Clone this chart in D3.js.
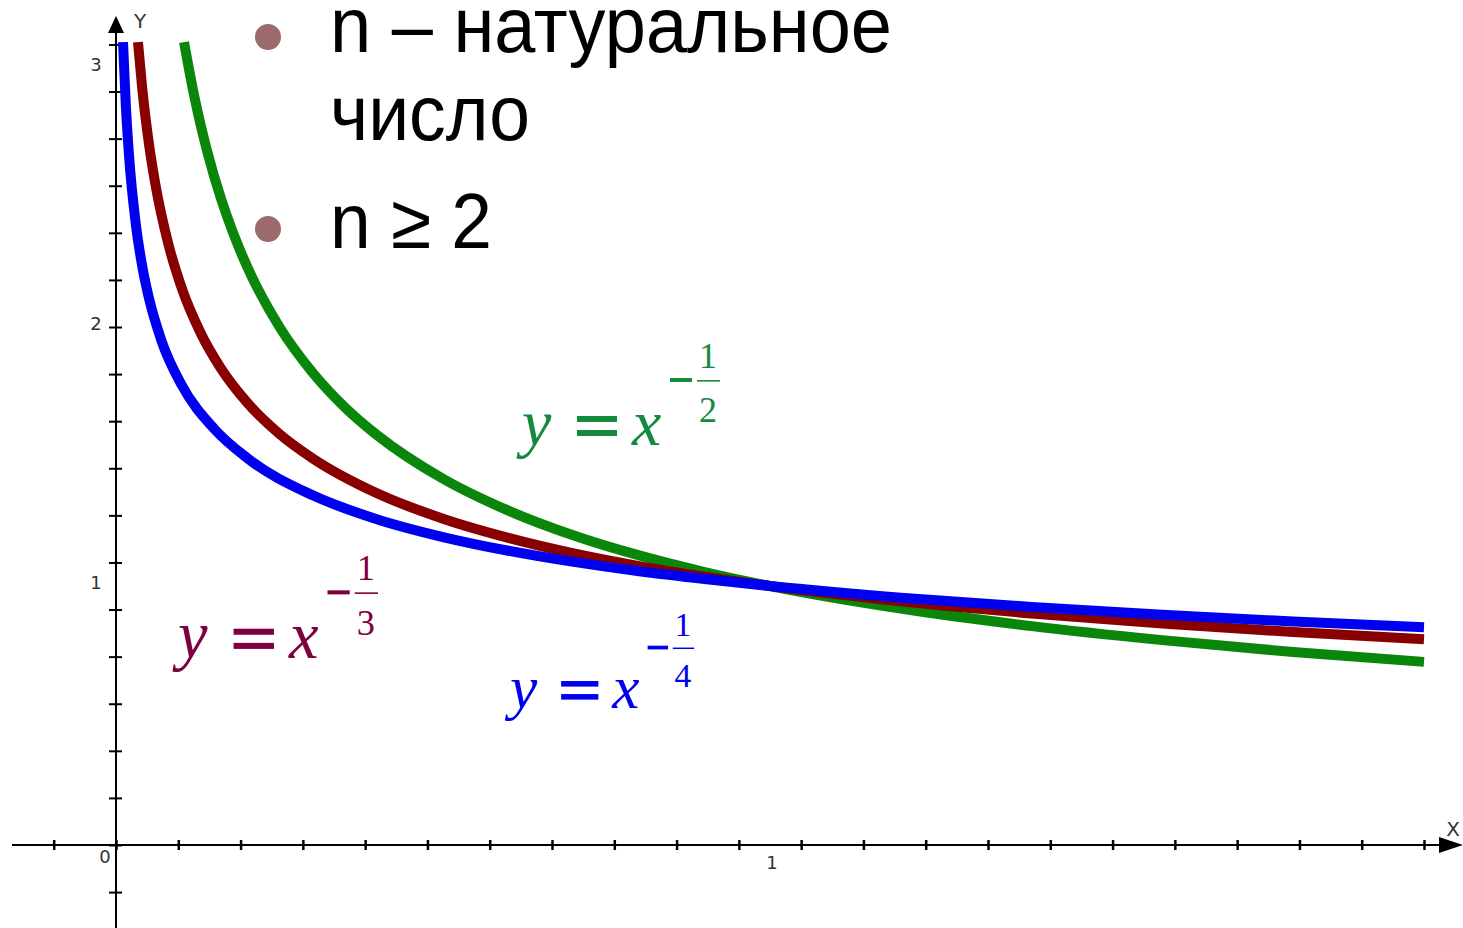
<!DOCTYPE html>
<html>
<head>
<meta charset="utf-8">
<script src="https://cdn.jsdelivr.net/npm/d3@7"></script>
<style>
  html, body { margin: 0; padding: 0; background: #fff; }
  svg { display: block; }
</style>
</head>
<body>
<svg id="chart" width="1463" height="928"></svg>
<script>
const blueX = [0.0107, 0.015, 0.02, 0.03, 0.04, 0.05, 0.07, 0.1, 0.15, 0.2, 0.3, 0.4, 0.5, 0.6, 0.7, 0.8, 0.9, 1.0, 1.2, 1.4, 1.6, 1.8, 2.0]
const blueY = [3.10, 2.857, 2.659, 2.403, 2.236, 2.115, 1.944, 1.778, 1.607, 1.495, 1.351, 1.257, 1.189, 1.136, 1.093, 1.057, 1.027, 1.0, 0.955, 0.919, 0.889, 0.863, 0.841]

const redX = [0.0336, 0.04, 0.05, 0.06, 0.08, 0.1, 0.13, 0.16, 0.2, 0.25, 0.3, 0.4, 0.5, 0.6, 0.7, 0.8, 0.9, 1.0, 1.2, 1.4, 1.6, 1.8, 2.0]
const redY = [3.10, 2.924, 2.714, 2.554, 2.321, 2.154, 1.974, 1.842, 1.710, 1.587, 1.494, 1.357, 1.260, 1.186, 1.126, 1.077, 1.036, 1.0, 0.941, 0.894, 0.855, 0.822, 0.794]

const greenX = [0.104, 0.12, 0.14, 0.16, 0.18, 0.2, 0.25, 0.3, 0.35, 0.4, 0.5, 0.6, 0.7, 0.8, 0.9, 1.0, 1.2, 1.4, 1.6, 1.8, 2.0]
const greenY = [3.10, 2.887, 2.673, 2.5, 2.357, 2.236, 2.0, 1.826, 1.690, 1.581, 1.414, 1.291, 1.195, 1.118, 1.054, 1.0, 0.913, 0.845, 0.791, 0.745, 0.707]

// axis ticks (the grapher puts 21 ticks per 2 units on x, 11 per 2 units on y)
const xTicks = d3.range(-1, 22).map(k => k * 2 / 21)
const yTicks = d3.range(-1, 18).map(k => k * 2 / 11)
const xLabels = [1]
const yLabels = [1, 2, 3]

const bullets = ["n – натуральное", "число", "n ≥ 2"]

const svg = d3.select("#chart")

const x = d3.scaleLinear().domain([0, 2]).range([116, 1424])
const y = d3.scaleLinear().domain([0, 3]).range([845, 68])

// ---- axes
const axes = svg.append("g").attr("stroke", "#000")

axes.append("line")
    .attr("x1", 12).attr("x2", 1445)
    .attr("y1", y(0)).attr("y2", y(0))
    .attr("stroke-width", 2)
axes.append("line")
    .attr("x1", x(0)).attr("x2", x(0))
    .attr("y1", 928).attr("y2", 30)
    .attr("stroke-width", 2)

// arrow heads
svg.append("path")
    .attr("d", `M1463,${y(0)} L1439,${y(0) - 8} L1439,${y(0) + 8} Z`)
    .attr("fill", "#000")
svg.append("path")
    .attr("d", `M${x(0)},16 L${x(0) - 8},33 L${x(0) + 8},33 Z`)
    .attr("fill", "#000")

const xAxis = svg.append("g")
    .attr("transform", `translate(0,${y(0) - 5})`)
    .call(d3.axisBottom(x).tickValues(xTicks).tickSize(10).tickFormat(""))
xAxis.select(".domain").remove()
xAxis.selectAll("line").attr("stroke", "#000").attr("stroke-width", 2.5)

const yAxis = svg.append("g")
    .attr("transform", `translate(${x(0) + 6},0)`)
    .call(d3.axisLeft(y).tickValues(yTicks).tickSize(13).tickFormat(""))
yAxis.select(".domain").remove()
yAxis.selectAll("line").attr("stroke", "#000").attr("stroke-width", 2)

const labelFont = "'DejaVu Sans', sans-serif"
svg.append("g")
    .selectAll("text")
    .data(yLabels)
    .join("text")
    .attr("x", 96)
    .attr("y", d => y(d) + 3)
    .attr("text-anchor", "middle")
    .attr("font-family", labelFont)
    .attr("font-size", 18)
    .attr("fill", "#333")
    .text(d => d)

svg.append("g")
    .selectAll("text")
    .data(xLabels)
    .join("text")
    .attr("x", d => x(d) + 2)
    .attr("y", y(0) + 24)
    .attr("text-anchor", "middle")
    .attr("font-family", labelFont)
    .attr("font-size", 18)
    .attr("fill", "#333")
    .text(d => d)

svg.append("text").attr("x", 105).attr("y", 863)
    .attr("text-anchor", "middle").attr("font-family", labelFont)
    .attr("font-size", 18).attr("fill", "#333").text("0")
svg.append("text").attr("x", 140).attr("y", 28)
    .attr("text-anchor", "middle").attr("font-family", labelFont)
    .attr("font-size", 20).attr("fill", "#333").text("Y")
svg.append("text").attr("x", 1453).attr("y", 836)
    .attr("text-anchor", "middle").attr("font-family", labelFont)
    .attr("font-size", 20).attr("fill", "#333").text("X")

// ---- curves
const line = d3.line()
    .x(d => x(d[0]))
    .y(d => y(d[1]))
    .curve(d3.curveMonotoneX)

const series = [
    { xs: greenX, ys: greenY, color: "#0a870a" },
    { xs: redX, ys: redY, color: "#880000" },
    { xs: blueX, ys: blueY, color: "#0000f0" }
]

svg.append("g")
    .selectAll("path")
    .data(series)
    .join("path")
    .attr("fill", "none")
    .attr("stroke", d => d.color)
    .attr("stroke-width", 10)
    .attr("stroke-linejoin", "round")
    .attr("d", d => line(d.xs.map((v, i) => [v, d.ys[i]])))

// ---- formula labels  y = x^(-1/n)
function formula(g, color, ox, oy, den, k) {
    const t = g.append("g")
        .attr("transform", `translate(${ox},${oy}) scale(${k})`)
        .attr("fill", color)
    const serif = "'Liberation Serif', 'Times New Roman', serif"
    t.append("text").attr("x", 0).attr("y", 0)
        .attr("font-family", serif).attr("font-style", "italic").attr("font-size", 66).text("y")
    t.append("rect").attr("x", 55).attr("y", -29).attr("width", 40).attr("height", 6)
    t.append("rect").attr("x", 55).attr("y", -15).attr("width", 40).attr("height", 6)
    t.append("text").attr("x", 110).attr("y", 0)
        .attr("font-family", serif).attr("font-style", "italic").attr("font-size", 66).text("x")
    // exponent
    t.append("rect").attr("x", 148).attr("y", -67).attr("width", 22).attr("height", 4)
    t.append("rect").attr("x", 175).attr("y", -65).attr("width", 23).attr("height", 1.6)
    t.append("text").attr("x", 186).attr("y", -77).attr("text-anchor", "middle")
        .attr("font-family", serif).attr("font-size", 36).text("1")
    t.append("text").attr("x", 186).attr("y", -23).attr("text-anchor", "middle")
        .attr("font-family", serif).attr("font-size", 36).text(den)
}

formula(svg, "#158a3e", 522, 445, "2", 1)
formula(svg, "#7d0040", 178, 658, "3", 1.01)
formula(svg, "#0000ee", 510, 708, "4", 0.93)

// ---- bullet text
const bulletRows = [
    { text: bullets[0], y: 52, len: 562, dot: 37 },
    { text: bullets[1], y: 140, len: 200, dot: null },
    { text: bullets[2], y: 248, len: 162, dot: 229 }
]
svg.append("g")
    .selectAll("circle")
    .data(bulletRows.filter(d => d.dot !== null))
    .join("circle")
    .attr("cx", 268)
    .attr("cy", d => d.dot)
    .attr("r", 13)
    .attr("fill", "#9b6a6a")

svg.append("g")
    .selectAll("text")
    .data(bulletRows)
    .join("text")
    .attr("x", 330)
    .attr("y", d => d.y)
    .attr("font-family", "'Liberation Sans', Arial, sans-serif")
    .attr("font-size", 77)
    .attr("textLength", d => d.len)
    .attr("lengthAdjust", "spacingAndGlyphs")
    .attr("fill", "#000")
    .text(d => d.text)
</script>
</body>
</html>
